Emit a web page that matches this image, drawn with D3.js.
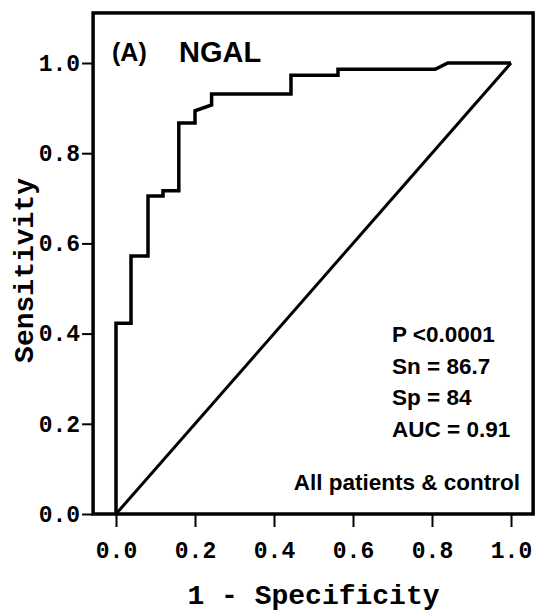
<!DOCTYPE html>
<html>
<head>
<meta charset="utf-8">
<script src="https://cdn.jsdelivr.net/npm/d3@7"></script>
<style>
  body { margin: 0; background: #fff; }
  svg { display: block; }
</style>
</head>
<body>
<div id="chart"></div>
<script>
// ROC curve points
const fpr = [0, 0, 0.038, 0.038, 0.081, 0.081, 0.119, 0.119, 0.159, 0.159, 0.2, 0.2, 0.242, 0.242, 0.443, 0.443, 0.562, 0.562, 0.808, 0.84, 1];
const tpr = [0, 0.423, 0.423, 0.572, 0.572, 0.705, 0.705, 0.717, 0.717, 0.867, 0.867, 0.894, 0.907, 0.931, 0.931, 0.973, 0.973, 0.986, 0.986, 1, 1];
const refLine = [[0, 0], [1, 1]];
const tickVals = [0, 0.2, 0.4, 0.6, 0.8, 1.0];
const statLines = ["P <0.0001", "Sn = 86.7", "Sp = 84", "AUC = 0.91"];
const groupLabel = "All patients & control";

const width = 535, height = 614;
const xDom = [-0.058, 1.056], yDom = [0, 1.111];

const x = d3.scaleLinear().domain([0, 1]).range([116, 511]);
const y = d3.scaleLinear().domain([0, 1]).range([514, 63]);

const svg = d3.select("#chart").append("svg")
  .attr("width", width)
  .attr("height", height);

const mono = "'Liberation Mono', 'Courier New', monospace";
const sans = "'Liberation Sans', Arial, sans-serif";

// axes
const xAxis = svg.append("g")
  .attr("transform", `translate(0,${y(0)})`)
  .call(d3.axisBottom(x).tickValues(tickVals).tickFormat(d3.format(".1f")).tickSize(13).tickPadding(15));
const yAxis = svg.append("g")
  .attr("transform", `translate(${x(xDom[0])},0)`)
  .call(d3.axisLeft(y).tickValues(tickVals).tickFormat(d3.format(".1f")).tickSize(11).tickPadding(2));

[xAxis, yAxis].forEach(g => {
  g.select(".domain").remove();
  g.selectAll("line").attr("stroke", "#000").attr("stroke-width", 2);
  g.selectAll("text")
    .attr("fill", "#000")
    .style("font-family", mono)
    .style("font-weight", "bold")
    .style("font-size", "23px");
});

// frame
svg.append("rect")
  .attr("x", x(xDom[0]))
  .attr("y", y(yDom[1]))
  .attr("width", x(xDom[1]) - x(xDom[0]))
  .attr("height", y(yDom[0]) - y(yDom[1]))
  .attr("fill", "none")
  .attr("stroke", "#000")
  .attr("stroke-width", 3.5);

// reference diagonal
svg.append("path")
  .datum(refLine)
  .attr("fill", "none")
  .attr("stroke", "#000")
  .attr("stroke-width", 3)
  .attr("d", d3.line().x(d => x(d[0])).y(d => y(d[1])));

// ROC curve
const pts = fpr.map((f, i) => [f, tpr[i]]);
svg.append("path")
  .datum(pts)
  .attr("fill", "none")
  .attr("stroke", "#000")
  .attr("stroke-width", 3.5)
  .attr("stroke-linejoin", "miter")
  .attr("d", d3.line().x(d => x(d[0])).y(d => y(d[1])));

// axis titles
svg.append("text")
  .attr("x", x(0.5))
  .attr("y", 604)
  .attr("text-anchor", "middle")
  .style("font-family", mono)
  .style("font-weight", "bold")
  .style("font-size", "28px")
  .text("1 - Specificity");

svg.append("text")
  .attr("transform", `translate(33,${y(0.54)}) rotate(-90)`)
  .attr("text-anchor", "middle")
  .style("font-family", mono)
  .style("font-weight", "bold")
  .style("font-size", "28px")
  .text("Sensitivity");

// panel title
svg.append("text")
  .attr("x", 112).attr("y", 61)
  .style("font-family", sans)
  .style("font-weight", "bold")
  .style("font-size", "25px")
  .text("(A)");
svg.append("text")
  .attr("x", 179).attr("y", 62)
  .style("font-family", sans)
  .style("font-weight", "bold")
  .style("font-size", "29px")
  .text("NGAL");

// stats
svg.append("g").selectAll("text")
  .data(statLines)
  .join("text")
  .attr("x", 392)
  .attr("y", (d, i) => 342 + i * 31.7)
  .style("font-family", sans)
  .style("font-weight", "bold")
  .style("font-size", "22.5px")
  .text(d => d);

svg.append("text")
  .attr("x", 520).attr("y", 490)
  .attr("text-anchor", "end")
  .style("font-family", sans)
  .style("font-weight", "bold")
  .style("font-size", "22.5px")
  .text(groupLabel);
</script>
</body>
</html>
